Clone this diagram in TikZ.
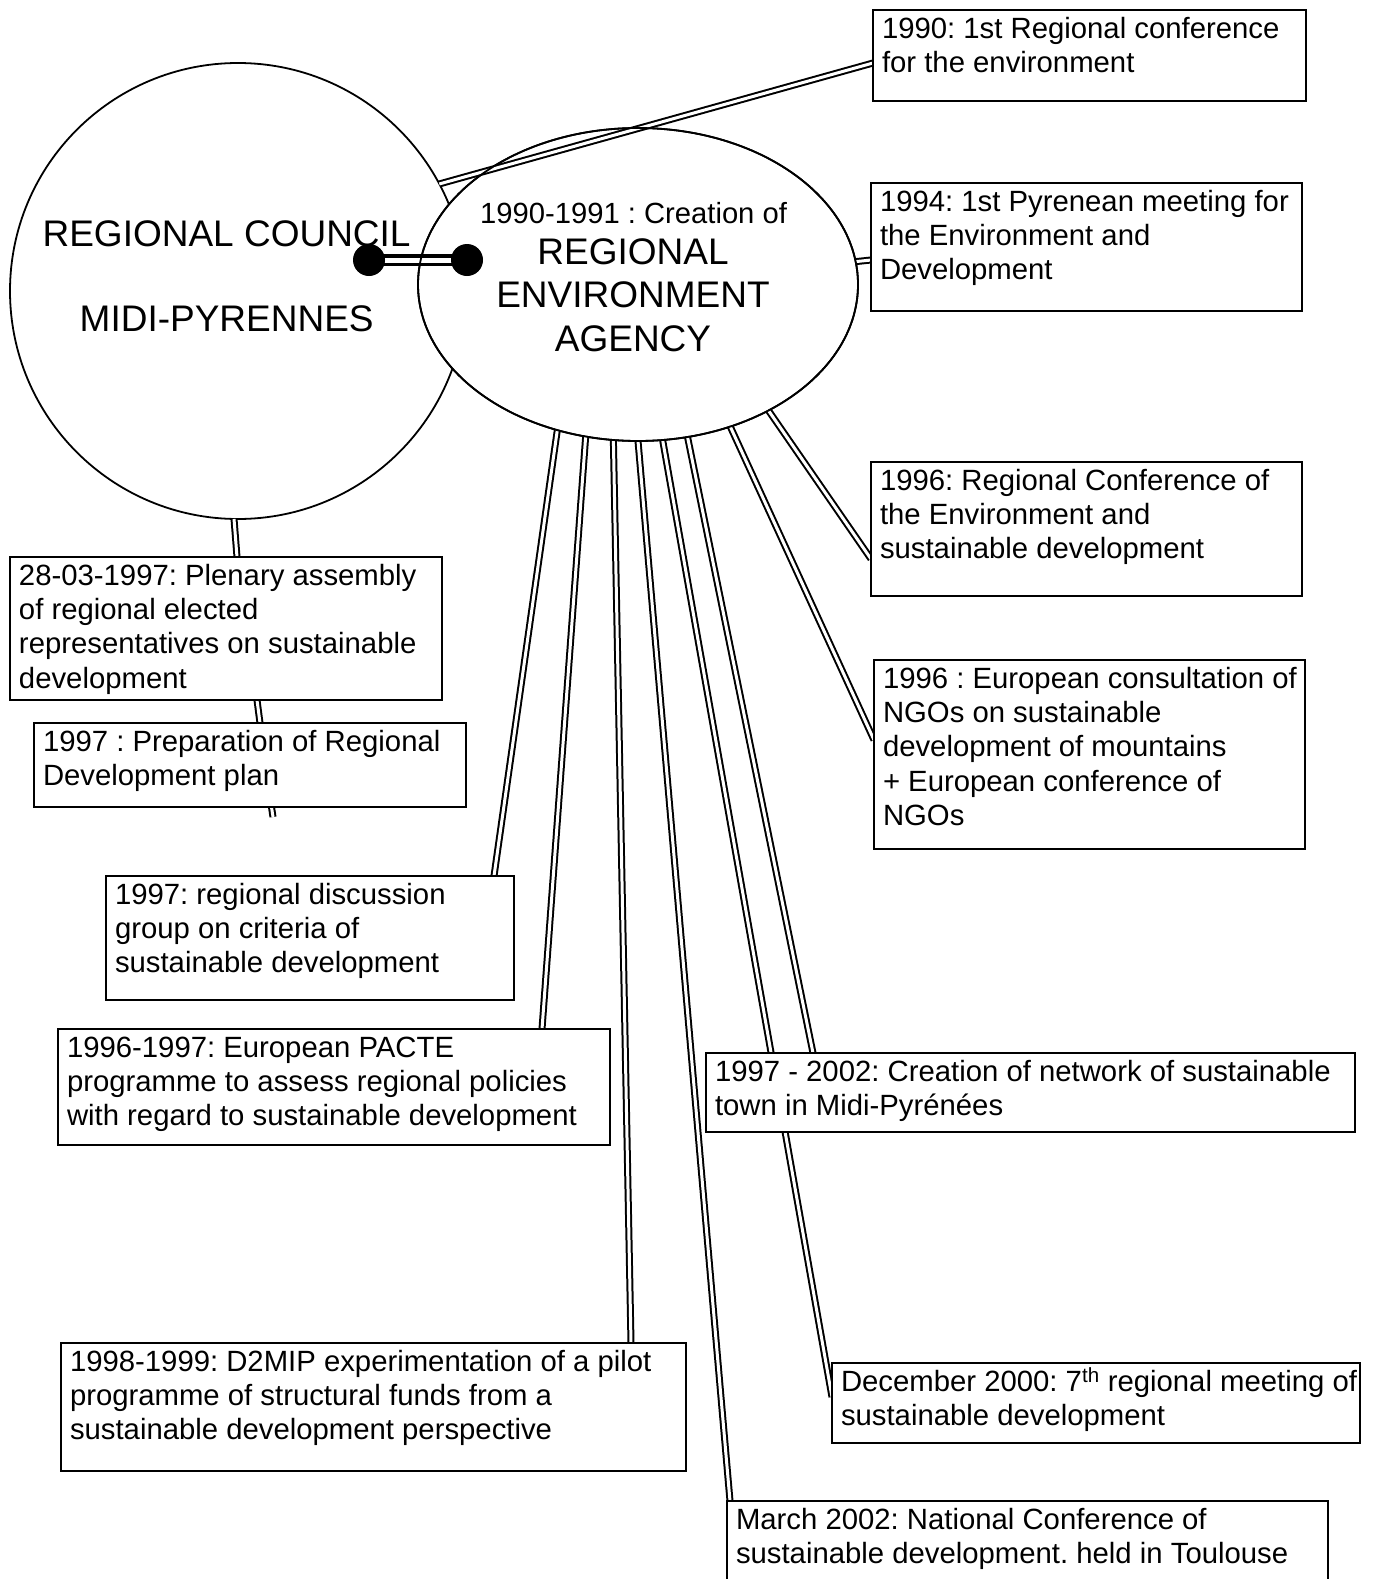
\documentclass[tikz,border=0pt]{standalone}
\usepackage{fontspec}
\setmainfont{Liberation Sans}
\frenchspacing
\usetikzlibrary{shapes.geometric,calc}
\pgfdeclarelayer{shapelayer}
\pgfdeclarelayer{linklayer}
\pgfsetlayers{shapelayer,linklayer,main}
\newcommand\tlbox[6]{%
  \node[boxst] (#1) at (#2,#3) {\parbox[c][\dimexpr #5pt-9pt\relax][t]{\dimexpr #4pt-18pt\relax}{\begin{tabular}[t]{@{}l@{}}#6\end{tabular}}};}
\begin{document}
\begin{tikzpicture}[x=1pt,y=-1pt,
  boxst/.style={draw, fill=white, line width=1.8pt, inner xsep=9pt, inner ysep=4.5pt, outer sep=0pt, anchor=north west, font=\fontsize{29.3}{34.2}\selectfont},
  link/.style={double, line width=2pt, double distance=3pt},
  bar/.style={double, line width=3.4pt, double distance=5pt},
  dotst/.style={circle, fill=black, minimum size=32pt, inner sep=0pt, outer sep=0pt},
  bigtxt/.style={anchor=base, font=\fontsize{37}{43.5}\selectfont, inner sep=0pt},
  smalltxt/.style={anchor=base, font=\fontsize{29.2}{34.2}\selectfont, inner sep=0pt}]
\useasboundingbox (0,0) rectangle (1378,1579);

\begin{pgfonlayer}{shapelayer}
\fill[white] (0,0) rectangle (1378,1579);
\node[circle, draw, fill=white, line width=1.8pt, minimum size=456pt, inner sep=0pt, outer sep=0pt] (rc) at (238,291) {};
\node[bigtxt] (rct1) at (226.6,246) {REGIONAL COUNCIL};
\node[bigtxt] (rct2) at (226.7,331) {MIDI-PYRENNES};
\node[ellipse, draw, fill=white, line width=1.8pt, minimum width=440pt, minimum height=313pt, inner sep=0pt, outer sep=0pt] (ag) at (638,284.5) {};
\node[smalltxt] (agt0) at (633.6,223) {1990-1991 : Creation of};
\node[bigtxt] (agt1) at (633,264) {REGIONAL};
\node[bigtxt] (agt2) at (633,307.5) {ENVIRONMENT};
\node[bigtxt] (agt3) at (633,351) {AGENCY};
\end{pgfonlayer}

\tlbox{a}{873}{10}{433}{91}{1990: 1st Regional conference\\for the environment}
\tlbox{b}{871}{183}{431}{128}{1994: 1st Pyrenean meeting for\\the Environment and\\Development}
\tlbox{c}{871}{462}{431}{134}{1996: Regional Conference of\\the Environment and\\sustainable development}
\tlbox{d}{874}{660}{431}{189}{1996 : European consultation of\\NGOs on sustainable\\development of mountains\\+ European conference of\\NGOs}
\tlbox{e}{10}{557}{432}{143}{28-03-1997: Plenary assembly\\of regional elected\\representatives on sustainable\\development}
\tlbox{f}{34}{723}{432}{84}{1997 : Preparation of Regional\\Development plan}
\tlbox{g}{106}{876}{408}{124}{1997: regional discussion\\group on criteria of\\sustainable development}
\tlbox{h}{58}{1029}{552}{116}{1996-1997: European PACTE\\programme to assess regional policies\\with regard to sustainable development}
\tlbox{i}{706}{1053}{649}{79}{1997 - 2002: Creation of network of sustainable\\town in Midi-Pyrénées}
\tlbox{j}{61}{1343}{625}{128}{1998-1999: D2MIP experimentation of a pilot\\programme of structural funds from a\\sustainable development perspective}
\tlbox{k}{832}{1363}{528}{80}{December 2000: 7\textsuperscript{th} regional meeting of\\sustainable development}
\tlbox{l}{727}{1501}{601}{84}{March 2002: National Conference of\\sustainable development. held in Toulouse}

\begin{pgfonlayer}{linklayer}
\draw[link] (rc.28.1) -- ([yshift=-53pt]a.north west);
\draw[link] (ag.6.43) -- ([yshift=-77pt]b.north west);
\draw[link] (ag.-44.3) -- ([yshift=-97pt]c.north west);
\draw[link] (ag.-57.9) -- ([yshift=-80pt]d.north west);
\draw[link] (ag.-72.4) -- ([xshift=107pt]i.north west);
\draw[link] (ag.-81.9) -- ([yshift=-34pt]k.north west);
\draw[link] (ag.-90.7) -- ([xshift=3pt]l.north west);
\draw[link] (ag.-99.9) -- ([xshift=570pt]j.north west);
\draw[link] (ag.-109.6) -- ([xshift=484pt]h.north west);
\draw[link] (ag.-119.1) -- ([xshift=388pt]g.north west);
\draw[link] (rc.-91.5) -- ([xshift=227pt]e.north west);
\draw[link] ([xshift=247pt]e.south west) -- ([xshift=226pt]f.north west);
\coordinate (fend) at (273,817);
\draw[link] ([xshift=237.5pt]f.south west) -- (fend);
\end{pgfonlayer}

\coordinate (dl) at (369,260);
\coordinate (dr) at (467,260);
\draw[bar] (dl) -- (dr);
\draw[line width=1.8pt] (ag.center) ellipse [x radius=220, y radius=156.5];
\node[dotst] (dot1) at (dl) {};
\node[dotst] (dot2) at (dr) {};
\end{tikzpicture}
\end{document}
